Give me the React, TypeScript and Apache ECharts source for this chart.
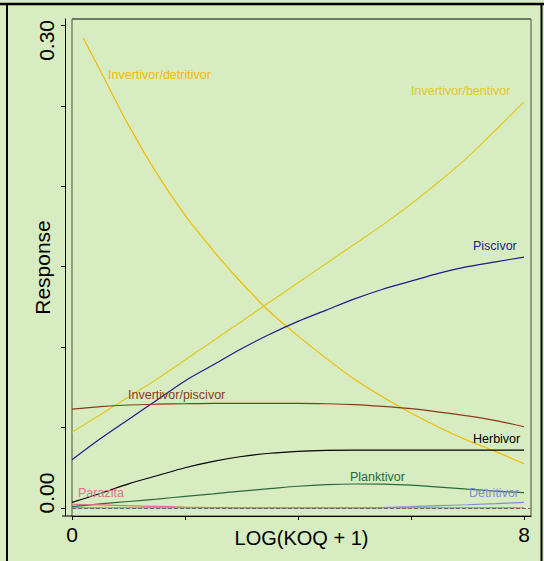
import React, { useEffect, useRef } from "react";
import * as echarts from "echarts";

// ---- data ----
const xGrid = [0, 0.5, 1, 1.5, 2, 2.5, 3, 3.5, 4, 4.5, 5, 5.5, 6, 6.5, 7, 7.5, 8];
const xInvDet = [0.2, 0.5, 1, 1.5, 2, 2.5, 3, 3.5, 4, 4.5, 5, 5.5, 6, 6.5, 7, 7.5, 8];

const invDetritivor = [0.292, 0.272, 0.238, 0.208, 0.182, 0.16, 0.14, 0.122, 0.107, 0.093, 0.08, 0.069, 0.059, 0.05, 0.042, 0.035, 0.0275];
const invBentivor = [0.047, 0.058, 0.069, 0.08, 0.092, 0.104, 0.116, 0.128, 0.14, 0.152, 0.164, 0.176, 0.189, 0.203, 0.218, 0.235, 0.2525];
const piscivor = [0.03, 0.043, 0.055, 0.067, 0.079, 0.089, 0.099, 0.108, 0.116, 0.123, 0.13, 0.136, 0.141, 0.146, 0.15, 0.153, 0.156];
const invPiscivor = [0.0614, 0.063, 0.064, 0.0645, 0.0648, 0.065, 0.065, 0.065, 0.065, 0.0648, 0.0643, 0.0632, 0.0617, 0.0596, 0.0572, 0.0543, 0.0505];
const herbivor = [0.0035, 0.009, 0.015, 0.02, 0.025, 0.029, 0.032, 0.034, 0.0352, 0.0358, 0.036, 0.036, 0.036, 0.036, 0.036, 0.036, 0.036];
const planktivor = [0.0008, 0.0025, 0.004, 0.0055, 0.0072, 0.0088, 0.0105, 0.012, 0.0135, 0.0145, 0.0149, 0.0148, 0.0142, 0.013, 0.0117, 0.0105, 0.0095];
const parazita = [0.0023, 0.0019, 0.0014, 0.001, 0.0006, 0.0003, 0.0001, 0, 0, 0, 0, 0, 0, 0, 0, 0, 0];
const detritivor = [0, 0, 0, 0, 0, 0, 0, 0, 0, 0, 0, 0.0003, 0.0008, 0.0014, 0.002, 0.0027, 0.0035];

const seriesNames = [
  "Invertivor/detritivor",
  "Invertivor/bentivor",
  "Piscivor",
  "Invertivor/piscivor",
  "Herbivor",
  "Planktivor",
  "Parazita",
  "Detritivor",
];

const xTicks = [0, 2, 4, 6, 8];
const xTickLabels = [0, 8];
const yTicks = [0, 0.05, 0.1, 0.15, 0.2, 0.25, 0.3];
const yTickLabels = [0, 0.3];

const FONT = "'Liberation Sans', Arial, sans-serif";

function zip(xs: number[], ys: number[]) {
  return ys.map((y, i) => [xs[i], y]);
}

export default function App() {
  const ref = useRef<HTMLDivElement>(null);

  useEffect(() => {
    if (!ref.current) return;
    const chart = echarts.init(ref.current, null, { renderer: "svg" });

    const colors = ["#f2bb00", "#e2c81a", "#1c1c8c", "#8b3a1a", "#000000", "#2a6a3a", "#e0708c", "#8888dc"];
    const datas = [
      zip(xInvDet, invDetritivor),
      zip(xGrid, invBentivor),
      zip(xGrid, piscivor),
      zip(xGrid, invPiscivor),
      zip(xGrid, herbivor),
      zip(xGrid, planktivor),
      zip(xGrid, parazita),
      zip(xGrid, detritivor),
    ];

    const labelPos: [number, number][] = [
      [108, 75],
      [411, 91],
      [473, 246],
      [128, 395],
      [473, 439],
      [350, 477],
      [78, 493],
      [469, 493],
    ];

    const series: any[] = datas.map((d, i) => ({
      name: seriesNames[i],
      type: "line",
      data: d,
      showSymbol: false,
      smooth: 0.3,
      lineStyle: { color: colors[i], width: 1.2 },
      z: 3,
    }));
    series[0].markLine = {
      silent: true,
      symbol: "none",
      label: { show: false },
      lineStyle: { color: "#6a6a6a", type: [4, 2], width: 1 },
      data: [{ yAxis: 0 }],
    };

    const graphics: any[] = [
      { type: "line", shape: { x1: 0, y1: 4, x2: 544, y2: 4 }, style: { stroke: "#000", lineWidth: 2.5 } },
      { type: "line", shape: { x1: 7, y1: 3, x2: 7, y2: 561 }, style: { stroke: "#000", lineWidth: 2 } },
      { type: "line", shape: { x1: 541.5, y1: 3, x2: 541.5, y2: 561 }, style: { stroke: "#000", lineWidth: 2 } },
      { type: "line", shape: { x1: 62, y1: 516, x2: 72, y2: 516 }, style: { stroke: "#000", lineWidth: 1 } },
      { type: "line", shape: { x1: 72, y1: 19, x2: 531, y2: 19 }, style: { stroke: "#6b7b63", lineWidth: 2 } },
    ];
    labelPos.forEach((p, i) => {
      graphics.push({
        type: "text",
        x: p[0],
        y: p[1],
        z: 10,
        style: {
          text: seriesNames[i],
          fill: colors[i],
          font: `12.5px ${FONT}`,
          textVerticalAlign: "middle",
          verticalAlign: "middle",
        },
      });
    });

    chart.setOption({
      animation: false,
      backgroundColor: "#d7edc1",
      textStyle: { fontFamily: FONT },
      grid: {
        left: 72,
        right: 13,
        top: 19,
        bottom: 45,
        show: true,
        borderColor: "#4a4a4a",
        borderWidth: 1,
        containLabel: false,
        outerBoundsMode: "none",
      },
      xAxis: {
        type: "value",
        min: 0,
        max: 8.124,
        name: "LOG(KOQ + 1)",
        nameLocation: "middle",
        nameGap: 12,
        nameMoveOverlap: false,
        nameTextStyle: { fontSize: 20, color: "#000", fontFamily: FONT },
        axisLine: { show: true, onZero: false, lineStyle: { color: "#000", width: 1 } },
        axisTick: { show: true, customValues: xTicks, length: 4, lineStyle: { color: "#000" } },
        axisLabel: { customValues: xTickLabels, fontSize: 21, color: "#000", margin: 8, fontFamily: FONT },
        splitLine: { show: false },
      },
      yAxis: {
        type: "value",
        min: -0.005,
        max: 0.304,
        offset: 7,
        name: "Response",
        nameLocation: "middle",
        nameGap: 12,
        nameMoveOverlap: false,
        nameTextStyle: { fontSize: 21, color: "#000", fontFamily: FONT },
        axisLine: { show: true, onZero: false, lineStyle: { color: "#000", width: 1 } },
        axisTick: { show: true, customValues: yTicks, length: 4, lineStyle: { color: "#000" } },
        axisLabel: {
          customValues: yTickLabels,
          rotate: 90,
          margin: 8,
          color: "#000",
          fontSize: 21,
          fontFamily: FONT,
          formatter: (v: number) => (v < 0.01 ? `{lo|${v.toFixed(2)}}` : `{hi|${v.toFixed(2)}}`),
          rich: {
            lo: { fontSize: 21, color: "#000", fontFamily: FONT, padding: [0, 0, 0, 30] },
            hi: { fontSize: 21, color: "#000", fontFamily: FONT, padding: [0, 30, 0, 0] },
          },
        },
        splitLine: { show: false },
      },
      series,
      graphic: graphics,
    });

    return () => chart.dispose();
  }, []);

  return (
    <div
      ref={ref}
      style={{ position: "fixed", left: 0, top: 0, width: 544, height: 561 }}
    />
  );
}
